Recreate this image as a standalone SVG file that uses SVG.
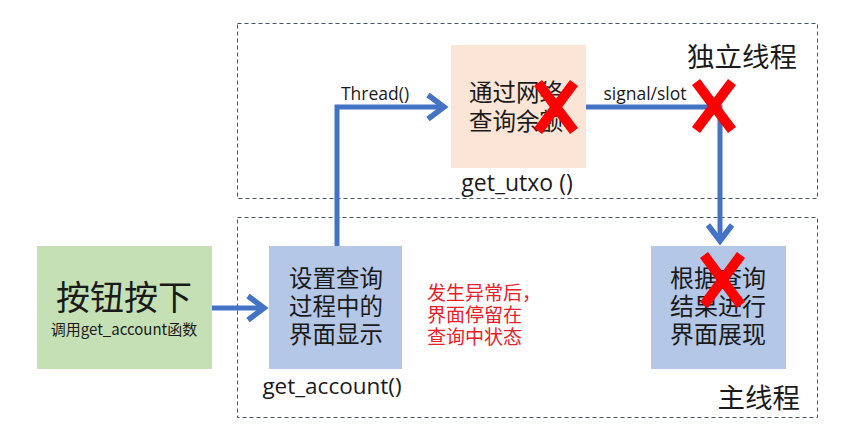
<svg xmlns="http://www.w3.org/2000/svg" width="847" height="440" viewBox="0 0 847 440">
<style>
.frame{fill:none;stroke:#44546a;stroke-width:1;stroke-dasharray:4 3}
.t{font-family:"Segoe UI","Open Sans","Noto Sans CJK SC",sans-serif;fill:#1a1a1a}
.cjk{font-family:"Noto Sans CJK SC",sans-serif;fill:#1a1a1a}
.conn{fill:none;stroke:#4472c4;stroke-width:5}
.x{stroke:#ff0000;stroke-width:10;stroke-linecap:butt}
</style>
<defs>
<marker id="ah" markerWidth="6" markerHeight="6" refX="4.2" refY="3" orient="auto" markerUnits="strokeWidth">
<path d="M1,0.6 L4.2,3 L1,5.4" fill="none" stroke="#4472c4" stroke-width="1.1"/>
</marker>
</defs>
<rect x="0" y="0" width="847" height="440" fill="#fff"/>
<g id="thread-frame">
<rect class="frame" x="237.5" y="23.5" width="580" height="175"/>
<text class="cjk" x="797" y="67" font-size="27.5" text-anchor="end">独立线程</text>
</g>
<g id="main-frame">
<rect class="frame" x="237.5" y="217.5" width="580" height="200"/>
<text class="cjk" x="800" y="408" font-size="27.5" text-anchor="end">主线程</text>
</g>
<g id="connectors">
<line class="conn" x1="212" y1="308" x2="264" y2="308" marker-end="url(#ah)"/>
<polyline class="conn" points="337,246 337,107 444,107" marker-end="url(#ah)"/>
<polyline class="conn" points="586,107 720,107 720,241" marker-end="url(#ah)"/>
<text class="t" x="375" y="100" font-size="17.5" text-anchor="middle">Thread()</text>
<text class="t" x="645" y="100" font-size="17.5" text-anchor="middle">signal/slot</text>
</g>
<g id="button">
<rect x="37" y="246" width="175" height="123" fill="#c5e0b4"/>
<text class="cjk" x="124" y="310" font-size="34" text-anchor="middle">按钮按下</text>
<text class="cjk" x="124" y="335" font-size="15" text-anchor="middle">调用get_account函数</text>
</g>
<g id="set-ui">
<rect x="269" y="246" width="133" height="123" fill="#b4c7e7"/>
<text class="cjk" font-size="23.5" text-anchor="middle"><tspan x="336" y="287">设置查询</tspan><tspan x="336" y="315">过程中的</tspan><tspan x="336" y="343">界面显示</tspan></text>
<text class="t" x="332" y="394" font-size="22.5" text-anchor="middle">get_account()</text>
</g>
<g id="query">
<rect x="451" y="45" width="135" height="123" fill="#fbe5d6"/>
<text class="cjk" font-size="23.5" text-anchor="middle"><tspan x="516" y="101">通过网络</tspan><tspan x="516" y="130">查询余额</tspan></text>
<text class="t" x="517" y="191" font-size="23" text-anchor="middle">get_utxo ()</text>
</g>
<g id="show">
<rect x="651" y="246" width="135" height="123" fill="#b4c7e7"/>
<text class="cjk" font-size="24" text-anchor="middle"><tspan x="718" y="287">根据查询</tspan><tspan x="718" y="315">结果进行</tspan><tspan x="718" y="343">界面展现</tspan></text>
</g>
<g id="note">
<text font-family="Noto Sans CJK SC,sans-serif" fill="#e8202a" font-size="19"><tspan x="427" y="300">发生异常后，</tspan><tspan x="427" y="322">界面停留在</tspan><tspan x="427" y="344">查询中状态</tspan></text>
</g>
<g id="marks">
<path class="x" d="M538,83 L574,131 M574,83 L538,131"/>
<path class="x" d="M696,82 L732,130 M732,82 L696,130"/>
<path class="x" d="M704,255 L741,305 M741,255 L704,305"/>
</g>
</svg>
